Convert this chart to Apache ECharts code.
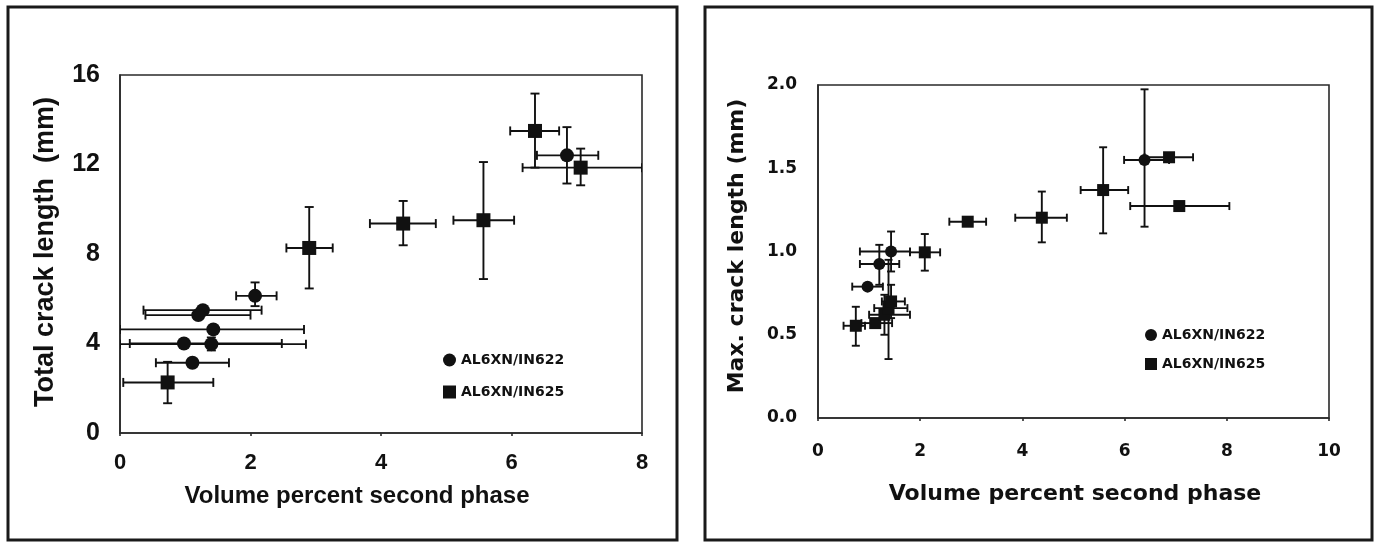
<!DOCTYPE html>
<html>
<head>
<meta charset="utf-8">
<script src="https://cdn.jsdelivr.net/npm/echarts@6/dist/echarts.min.js"></script>
<style>html,body{margin:0;padding:0;background:#fff;}#c{width:1376px;height:542px;}</style>
</head>
<body>
<div id="c"></div>
<script>
// ---- Left panel: Total crack length ----
const leftXTicks = [0, 2, 4, 6, 8];
const leftYTicks = [0, 4, 8, 12, 16];
const l622X   = [1.27, 1.20, 1.43, 0.98, 1.40, 1.11, 2.07, 6.85];
const l622Y   = [5.49, 5.27, 4.63, 4.00, 3.97, 3.14, 6.13, 12.41];
const l622XLo = [0.36, 0.39, 0.00, 0.15, 0.00, 0.55, 1.78, 6.39];
const l622XHi = [2.17, 2.00, 2.82, 2.48, 2.85, 1.67, 2.40, 7.33];
const l622YLo = [null, null, null, null, 3.69, null, 5.67, 11.15];
const l622YHi = [null, null, null, null, 4.27, null, 6.73, 13.67];

const l625X   = [0.73, 2.90, 4.34, 5.57, 6.36, 7.06];
const l625Y   = [2.26, 8.27, 9.36, 9.51, 13.50, 11.86];
const l625XLo = [0.05, 2.55, 3.83, 5.11, 5.98, 6.17];
const l625XHi = [1.43, 3.26, 4.84, 6.04, 6.73, 8.00];
const l625YLo = [1.33, 6.46, 8.39, 6.88, 11.86, 11.07];
const l625YHi = [3.18, 10.10, 10.37, 12.11, 15.17, 12.71];

// ---- Right panel: Max. crack length ----
const rightXTicks = [0, 2, 4, 6, 8, 10];
const rightYTicks = [0.0, 0.5, 1.0, 1.5, 2.0];
const r622X   = [1.43, 1.20, 0.97, 6.39];
const r622Y   = [1.00, 0.925, 0.789, 1.55];
const r622XLo = [0.82, 0.82, 0.67, 5.99];
const r622XHi = [1.80, 1.59, 1.27, 6.87];
const r622YLo = [0.88, 0.80, null, 1.149];
const r622YHi = [1.12, 1.04, null, 1.974];

const r625X   = [0.74, 1.12, 1.30, 1.38, 1.43, 2.09, 2.93, 4.38, 5.58, 6.87, 7.07];
const r625Y   = [0.554, 0.570, 0.620, 0.660, 0.700, 0.995, 1.179, 1.203, 1.369, 1.566, 1.273];
const r625XLo = [0.50, 0.85, 1.00, 1.10, 1.25, 1.80, 2.57, 3.86, 5.14, 6.39, 6.11];
const r625XHi = [0.92, 1.45, 1.80, 1.75, 1.70, 2.39, 3.29, 4.87, 6.07, 7.34, 8.05];
const r625YLo = [0.434, null, 0.50, 0.354, 0.60, 0.885, null, 1.055, 1.109, null, null];
const r625YHi = [0.668, null, 0.74, 0.95, 0.80, 1.105, null, 1.36, 1.626, null, null];

const seriesNames = ['AL6XN/IN622', 'AL6XN/IN625'];
const xTitle = 'Volume percent second phase';
const leftYTitle = 'Total crack length  (mm)';
const rightYTitle = 'Max. crack length (mm)';

function pts(X, Y) { return X.map((x, i) => [x, Y[i]]); }
function errs(X, Y, xlo, xhi, ylo, yhi) {
  return X.map((x, i) => [x, Y[i], xlo[i], xhi[i], ylo[i], yhi[i]]);
}
function errRender(cap) {
  return function (params, api) {
    const y = api.value(1), x = api.value(0);
    const xlo = api.value(2), xhi = api.value(3), ylo = api.value(4), yhi = api.value(5);
    const st = { stroke: '#111', lineWidth: 1.9 };
    const ch = [];
    function ln(x1, y1, x2, y2) { ch.push({ type: 'line', shape: { x1, y1, x2, y2 }, style: st }); }
    if (!isNaN(xlo) && !isNaN(xhi)) {
      const a = api.coord([xlo, y]), b = api.coord([xhi, y]);
      ln(a[0], a[1], b[0], b[1]);
      ln(a[0], a[1] - cap, a[0], a[1] + cap);
      ln(b[0], b[1] - cap, b[0], b[1] + cap);
    }
    if (!isNaN(ylo) && !isNaN(yhi)) {
      const a = api.coord([x, ylo]), b = api.coord([x, yhi]);
      ln(a[0], a[1], b[0], b[1]);
      ln(a[0] - cap, a[1], a[0] + cap, a[1]);
      ln(b[0] - cap, b[1], b[0] + cap, b[1]);
    }
    return { type: 'group', children: ch };
  };
}

const chart = echarts.init(document.getElementById('c'), null, { renderer: 'canvas' });
const axisLineStyle = { color: '#2a2a2a', width: 1.6 };
const LFONT = '"Liberation Sans", Arial, sans-serif';
const RFONT = '"DejaVu Sans", sans-serif';
const markStyle = { color: '#111', opacity: 1 };

const option = {
  animation: false,
  backgroundColor: '#fff',
  grid: [
    { left: 120, top: 75, width: 522, height: 358, show: true, borderColor: '#2a2a2a', borderWidth: 1.6, containLabel: false },
    { left: 818, top: 85, width: 511, height: 333, show: true, borderColor: '#2a2a2a', borderWidth: 1.6, containLabel: false }
  ],
  xAxis: [
    { gridIndex: 0, type: 'value', min: leftXTicks[0], max: leftXTicks[leftXTicks.length - 1], interval: 2,
      axisLine: { show: true, lineStyle: axisLineStyle }, axisTick: { show: true, length: 3, lineStyle: axisLineStyle },
      splitLine: { show: false },
      axisLabel: { fontFamily: LFONT, fontWeight: 'bold', fontSize: 22, color: '#111', margin: 19 } },
    { gridIndex: 1, type: 'value', min: rightXTicks[0], max: rightXTicks[rightXTicks.length - 1], interval: 2,
      axisLine: { show: true, lineStyle: axisLineStyle }, axisTick: { show: true, length: 3, lineStyle: axisLineStyle },
      splitLine: { show: false },
      axisLabel: { fontFamily: RFONT, fontWeight: 'bold', fontSize: 17, color: '#111', margin: 25 } }
  ],
  yAxis: [
    { gridIndex: 0, type: 'value', min: leftYTicks[0], max: leftYTicks[leftYTicks.length - 1], interval: 4,
      axisLine: { show: true, lineStyle: axisLineStyle }, axisTick: { show: false },
      splitLine: { show: false },
      axisLabel: { fontFamily: LFONT, fontWeight: 'bold', fontSize: 25, color: '#111', margin: 20 } },
    { gridIndex: 1, type: 'value', min: rightYTicks[0], max: rightYTicks[rightYTicks.length - 1], interval: 0.5,
      axisLine: { show: true, lineStyle: axisLineStyle }, axisTick: { show: false },
      splitLine: { show: false },
      axisLabel: { fontFamily: RFONT, fontWeight: 'bold', fontSize: 17, color: '#111', margin: 21,
        formatter: v => v.toFixed(1) } }
  ],
  legend: [
    { orient: 'vertical', left: 438, top: 348, itemGap: 18, itemWidth: 13, itemHeight: 13,
      textStyle: { fontFamily: RFONT, fontWeight: 'bold', fontSize: 14, color: '#111' },
      data: [{ name: seriesNames[0], icon: 'circle' }, { name: seriesNames[1], icon: 'rect' }] },
    { orient: 'vertical', left: 1140, top: 323, itemGap: 15, itemWidth: 12, itemHeight: 12,
      textStyle: { fontFamily: RFONT, fontWeight: 'bold', fontSize: 14, color: '#111' },
      data: [{ name: seriesNames[0], icon: 'circle' }, { name: seriesNames[1], icon: 'rect' }] }
  ],
  graphic: [
    { type: 'rect', shape: { x: 8, y: 7, width: 669, height: 533 }, style: { fill: 'none', stroke: '#1a1a1a', lineWidth: 3 } },
    { type: 'rect', shape: { x: 705, y: 7, width: 667, height: 533 }, style: { fill: 'none', stroke: '#1a1a1a', lineWidth: 3 } },
    { type: 'text', x: 46, y: 252, rotation: Math.PI / 2,
      style: { text: leftYTitle, font: 'bold 27px ' + LFONT, fill: '#111', textAlign: 'center', textVerticalAlign: 'middle' } },
    { type: 'text', x: 357, y: 496,
      style: { text: xTitle, font: 'bold 24px "Liberation Sans Narrow", ' + LFONT, fill: '#111', textAlign: 'center', textVerticalAlign: 'middle' } },
    { type: 'text', x: 737, y: 246, rotation: Math.PI / 2,
      style: { text: rightYTitle, font: 'bold 22px ' + RFONT, fill: '#111', textAlign: 'center', textVerticalAlign: 'middle' } },
    { type: 'text', x: 1075, y: 494,
      style: { text: xTitle, font: 'bold 22px ' + RFONT, fill: '#111', textAlign: 'center', textVerticalAlign: 'middle' } }
  ],
  series: [
    { type: 'custom', xAxisIndex: 0, yAxisIndex: 0, renderItem: errRender(4.5), clip: true, z: 1,
      encode: { x: 0, y: 1 }, data: errs(l622X, l622Y, l622XLo, l622XHi, l622YLo, l622YHi), silent: true },
    { type: 'custom', xAxisIndex: 0, yAxisIndex: 0, renderItem: errRender(4.5), clip: true, z: 1,
      encode: { x: 0, y: 1 }, data: errs(l625X, l625Y, l625XLo, l625XHi, l625YLo, l625YHi), silent: true },
    { type: 'custom', xAxisIndex: 1, yAxisIndex: 1, renderItem: errRender(4), clip: true, z: 1,
      encode: { x: 0, y: 1 }, data: errs(r622X, r622Y, r622XLo, r622XHi, r622YLo, r622YHi), silent: true },
    { type: 'custom', xAxisIndex: 1, yAxisIndex: 1, renderItem: errRender(4), clip: true, z: 1,
      encode: { x: 0, y: 1 }, data: errs(r625X, r625Y, r625XLo, r625XHi, r625YLo, r625YHi), silent: true },
    { name: seriesNames[0], type: 'scatter', xAxisIndex: 0, yAxisIndex: 0, symbol: 'circle', symbolSize: 14, z: 3,
      itemStyle: markStyle, data: pts(l622X, l622Y) },
    { name: seriesNames[1], type: 'scatter', xAxisIndex: 0, yAxisIndex: 0, symbol: 'rect', symbolSize: 14, z: 3,
      itemStyle: markStyle, data: pts(l625X, l625Y) },
    { name: seriesNames[0], type: 'scatter', xAxisIndex: 1, yAxisIndex: 1, symbol: 'circle', symbolSize: 12, z: 3,
      itemStyle: markStyle, data: pts(r622X, r622Y) },
    { name: seriesNames[1], type: 'scatter', xAxisIndex: 1, yAxisIndex: 1, symbol: 'rect', symbolSize: 12, z: 3,
      itemStyle: markStyle, data: pts(r625X, r625Y) }
  ]
};
chart.setOption(option);
</script>
</body>
</html>
